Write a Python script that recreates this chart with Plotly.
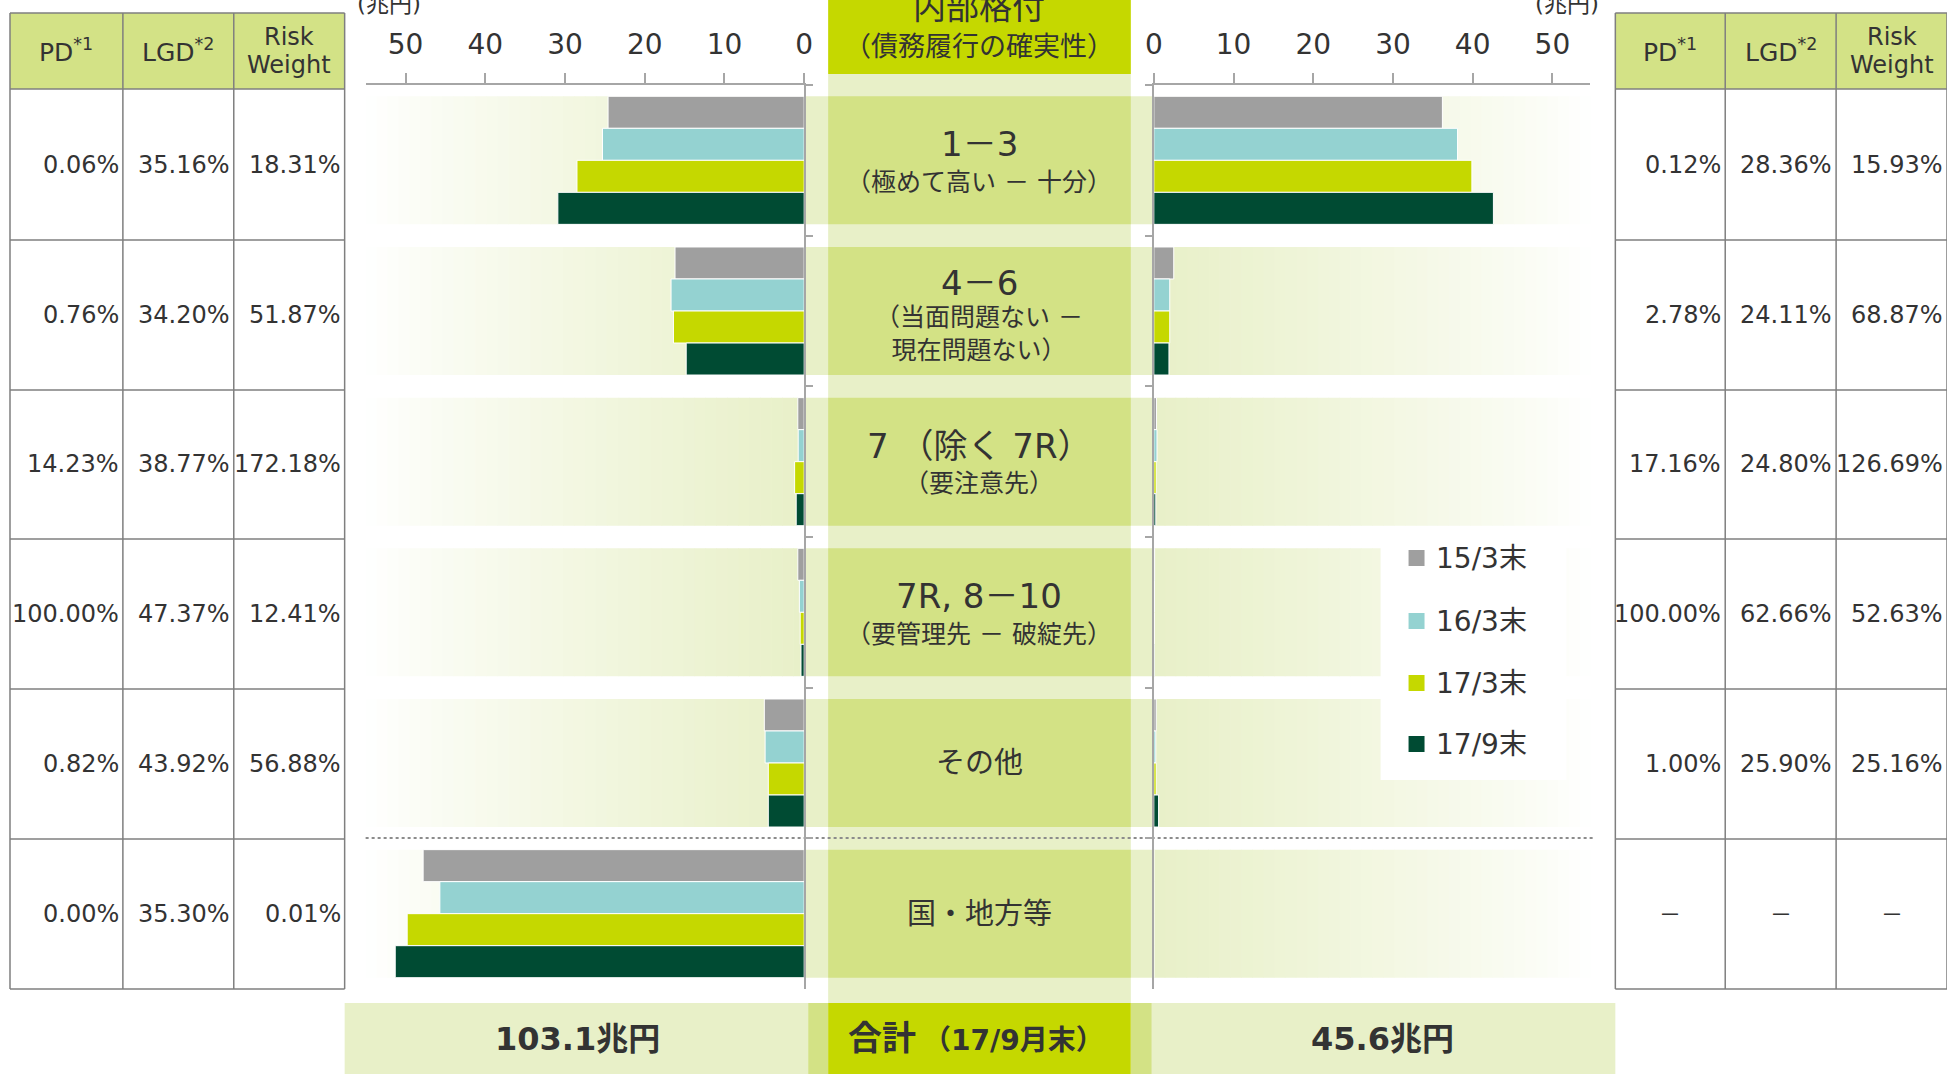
import plotly.graph_objects as go

W, H = 1947, 1074
FONT = "DejaVu Sans, Noto Sans CJK JP, sans-serif"
TEXT = "#333333"

# ---- data -----------------------------------------------------------------
categories = ["1－3", "4－6", "7 （除く 7R）", "7R, 8－10", "その他", "国・地方等"]
category_notes = ["（極めて高い － 十分）", "（当面問題ない －<br>現在問題ない）",
                  "（要注意先）", "（要管理先 － 破綻先）", "", ""]

series_names = ["15/3末", "16/3末", "17/3末", "17/9末"]
series_colors = ["#9f9f9f", "#94d2d1", "#c5d800", "#004b33"]

# exposure (兆円), left panel
left_1503 = [24.6, 16.2, 0.8, 0.8, 5.0, 47.8]
left_1603 = [25.3, 16.7, 0.75, 0.6, 4.9, 45.7]
left_1703 = [28.5, 16.4, 1.2, 0.5, 4.5, 49.8]
left_1709 = [30.9, 14.8, 1.0, 0.4, 4.5, 51.3]

# exposure (兆円), right panel
right_1503 = [36.2, 2.5, 0.33, 0.1, 0.3, 0.0]
right_1603 = [38.1, 2.0, 0.4, 0.08, 0.25, 0.0]
right_1703 = [39.9, 2.0, 0.3, 0.08, 0.3, 0.0]
right_1709 = [42.6, 1.9, 0.25, 0.05, 0.6, 0.0]

left_series = [left_1503, left_1603, left_1703, left_1709]
right_series = [right_1503, right_1603, right_1703, right_1709]

axis_ticks = [0, 10, 20, 30, 40, 50]

table_header = ["PD<sup>*1</sup>", "LGD<sup>*2</sup>", "Risk", "Weight"]
left_pd = ["0.06%", "0.76%", "14.23%", "100.00%", "0.82%", "0.00%"]
left_lgd = ["35.16%", "34.20%", "38.77%", "47.37%", "43.92%", "35.30%"]
left_rw = ["18.31%", "51.87%", "172.18%", "12.41%", "56.88%", "0.01%"]
right_pd = ["0.12%", "2.78%", "17.16%", "100.00%", "1.00%", "－"]
right_lgd = ["28.36%", "24.11%", "24.80%", "62.66%", "25.90%", "－"]
right_rw = ["15.93%", "68.87%", "126.69%", "52.63%", "25.16%", "－"]

left_total = 103.1
right_total = 45.6
total_label = "合計"
total_period = "（17/9月末）"
unit_label = "(兆円)"
header_title = "内部格付"
header_sub = "（債務履行の確実性）"

# ---- geometry helpers (pixels -> paper) -------------------------------------
# horizontal layout is specified on the page grid; the page body keeps an
# 8px gutter, so the drawable width is slightly narrower than the window
GUTTER = 8
DRAW_W = W - 2 * GUTTER


def px(x):
    return (x - GUTTER) / DRAW_W


def py(y):
    return 1 - y / H


PLOT_TOP, PLOT_BOT = 85, 989
L0, L_END = 804, 365          # left panel: zero line, far end
R0, R_END = 1154, 1591        # right panel: zero line, far end
SCALE = 7.98                  # pixels per 兆円
COL_L, COL_R = 828, 1131      # centre rating column
CX = (COL_L + COL_R) / 2

LIGHT = (232, 240, 200)
MID = "#d3e285"
LIME = "#c5d800"
GRID = "#7f7f7f"
AXIS = "#a6a6a6"


def rgb(c):
    return "rgb(%d,%d,%d)" % c


def mix(t):
    return tuple(round(255 + (LIGHT[i] - 255) * t) for i in range(3))


shapes = []


def rect(x0, y0, x1, y1, color, yref="paper", layer="below"):
    if yref == "paper":
        ya, yb = py(y1), py(y0)
    else:
        ya, yb = y0, y1
    shapes.append(dict(type="rect", xref="paper", yref=yref, x0=px(x0), x1=px(x1),
                       y0=ya, y1=yb, fillcolor=color, line=dict(width=0), layer=layer))


def line(x0, y0, x1, y1, color=GRID, width=1.5, dash="solid"):
    shapes.append(dict(type="line", xref="paper", yref="paper", x0=px(x0), x1=px(x1),
                       y0=py(y0), y1=py(y1), line=dict(color=color, width=width, dash=dash),
                       layer="below"))


# centre column (full height) and its lime header
rect(COL_L, 74, COL_R, 1003, rgb(LIGHT))
rect(COL_L, 0, COL_R, 74, LIME)

# row bands with soft fade toward the outer ends
STEPS = 40
for i in range(len(categories)):
    b0, b1 = i - 0.425, i + 0.425
    for k in range(STEPS):
        t = (k + 0.5) / STEPS
        col = rgb(mix(min(1.0, t ** 0.85)))
        xa = L_END + (L0 - L_END) * k / STEPS
        xb = L_END + (L0 - L_END) * (k + 1) / STEPS + 0.6
        rect(xa, b0, xb, b1, col, yref="y")
        xa = R0 + (R_END - R0) * (STEPS - k - 1) / STEPS
        xb = R0 + (R_END - R0) * (STEPS - k) / STEPS + 0.6
        rect(xa, b0, xb, b1, col, yref="y")
    rect(L0, b0, COL_L, b1, rgb(LIGHT), yref="y")
    rect(COL_R, b0, R0, b1, rgb(LIGHT), yref="y")
    rect(COL_L, b0, COL_R, b1, MID, yref="y")

# legend backdrop
rect(1381, 546, 1567, 780, "white")

# dotted separator before the public sector row
line(365, 838, 1595, 838, color="#8c8c8c", width=2.2, dash="dot")

# totals strip
rect(344, 1003, 808, H, rgb(LIGHT))
rect(808, 1003, COL_L, H, MID)
rect(COL_L, 1003, COL_R, H, LIME)
rect(COL_R, 1003, 1152, H, MID)
rect(1152, 1003, 1616, H, rgb(LIGHT))

# ---- tables -----------------------------------------------------------------
row_lines = [89, 240, 390, 539, 689, 839, 989]
HEAD_TOP = 13
annotations = []


def note(x, y, text, size, anchor="center", yanchor="middle"):
    annotations.append(dict(xref="paper", yref="paper", x=px(x), y=py(y), text=text,
                            showarrow=False, xanchor=anchor, yanchor=yanchor,
                            font=dict(family=FONT, size=size, color=TEXT)))


def table(cols, pd_vals, lgd_vals, rw_vals):
    rect(cols[0], HEAD_TOP, cols[-1], row_lines[0], "#d3e286")
    for y in [HEAD_TOP] + row_lines:
        line(cols[0], y, cols[-1], y)
    for x in cols:
        line(x, HEAD_TOP, x, row_lines[-1])
    mids = [(cols[j] + cols[j + 1]) / 2 for j in range(3)]
    note(mids[0], 51, table_header[0], 25)
    note(mids[1], 51, table_header[1], 25)
    note(mids[2], 37, table_header[2], 24)
    note(mids[2], 65, table_header[3], 24)
    for r in range(len(pd_vals)):
        yc = (row_lines[r] + row_lines[r + 1]) / 2
        for j, vals in enumerate([pd_vals, lgd_vals, rw_vals]):
            v = vals[r]
            if v == "－":
                note(mids[j], yc, v, 22)
            else:
                note(cols[j + 1] - 2, yc, v, 24, anchor="right")


table([9, 122, 233, 344], left_pd, left_lgd, left_rw)
table([1616, 1726, 1837, 1948], right_pd, right_lgd, right_rw)

# ---- centre texts -----------------------------------------------------------
note(CX, 7, header_title, 33)
note(CX, 47, header_sub, 27)
note(388, 4, unit_label, 23)
note(1568, 4, unit_label, 23)

for i, (cat, sub) in enumerate(zip(categories, category_notes)):
    if sub:
        two = "<br>" in sub
        annotations.append(dict(xref="paper", yref="y", x=px(CX), y=cat,
                                yshift=28 if two else 16,
                                text=cat, showarrow=False, xanchor="center", yanchor="middle",
                                font=dict(family=FONT, size=34, color=TEXT)))
        annotations.append(dict(xref="paper", yref="y", x=px(CX), y=cat,
                                yshift=-23 if two else -22,
                                text=sub, showarrow=False, xanchor="center", yanchor="middle",
                                font=dict(family=FONT, size=25, color=TEXT)))
    else:
        annotations.append(dict(xref="paper", yref="y", x=px(CX), y=cat,
                                text=cat, showarrow=False, xanchor="center", yanchor="middle",
                                font=dict(family=FONT, size=29, color=TEXT)))

# totals
note(577, 1039, "<b>%.1f兆円</b>" % left_total, 32)
note(1383, 1039, "<b>%.1f兆円</b>" % right_total, 32)
note(918, 1038, "<b>%s</b>" % total_label, 34, anchor="right")
note(921, 1040, "<b>%s</b>" % total_period, 28, anchor="left")

# legend: swatches and labels
LEG_Y = [558, 621, 683, 744]
for name, color, yy in zip(series_names, series_colors, LEG_Y):
    rect(1409, yy - 8, 1425, yy + 8, color, layer="above")
    note(1434, yy, name, 28, anchor="left")

# ---- bars -------------------------------------------------------------------
fig = go.Figure()
for name, color, lv, rv in zip(series_names, series_colors, left_series, right_series):
    fig.add_trace(go.Bar(y=categories, x=lv, orientation="h", name=name,
                         marker=dict(color=color, line=dict(color="white", width=1)),
                         xaxis="x", yaxis="y", showlegend=False))
    fig.add_trace(go.Bar(y=categories, x=rv, orientation="h", name=name,
                         marker=dict(color=color, line=dict(color="white", width=1)),
                         xaxis="x2", yaxis="y2", showlegend=False))

xaxis_common = dict(side="top", tickvals=axis_ticks, ticks="outside", ticklen=10,
                    tickwidth=1.5, tickcolor=AXIS, showline=True, linecolor=AXIS,
                    linewidth=1.5, showgrid=False, zeroline=False, ticklabelstandoff=8,
                    tickfont=dict(family=FONT, size=28, color=TEXT), fixedrange=True)
yaxis_common = dict(type="category", categoryorder="array", categoryarray=categories,
                    range=[5.5, -0.5], domain=[py(PLOT_BOT), py(PLOT_TOP)],
                    showline=True, linecolor=AXIS, linewidth=1.5, ticks="outside",
                    tickson="boundaries", ticklen=7, tickwidth=1.5, tickcolor=AXIS,
                    showticklabels=False, showgrid=False, zeroline=False, fixedrange=True)

fig.update_layout(
    width=W, height=H, autosize=False,
    margin=dict(l=0, r=0, t=0, b=0),
    paper_bgcolor="white", plot_bgcolor="rgba(0,0,0,0)",
    barmode="group", bargap=0.15, bargroupgap=0,
    font=dict(family=FONT, color=TEXT),
    showlegend=False,
    xaxis=dict(domain=[px(L_END), px(L0)], range=[(L0 - L_END) / SCALE, 0],
               anchor="y", **xaxis_common),
    xaxis2=dict(domain=[px(R0), px(R_END)], range=[0, (R_END - R0) / SCALE],
                anchor="y2", **xaxis_common),
    yaxis=dict(anchor="x", side="right", **yaxis_common),
    yaxis2=dict(anchor="x2", side="left", **yaxis_common),
    shapes=shapes,
    annotations=annotations,
)

fig.write_html("out.html")
